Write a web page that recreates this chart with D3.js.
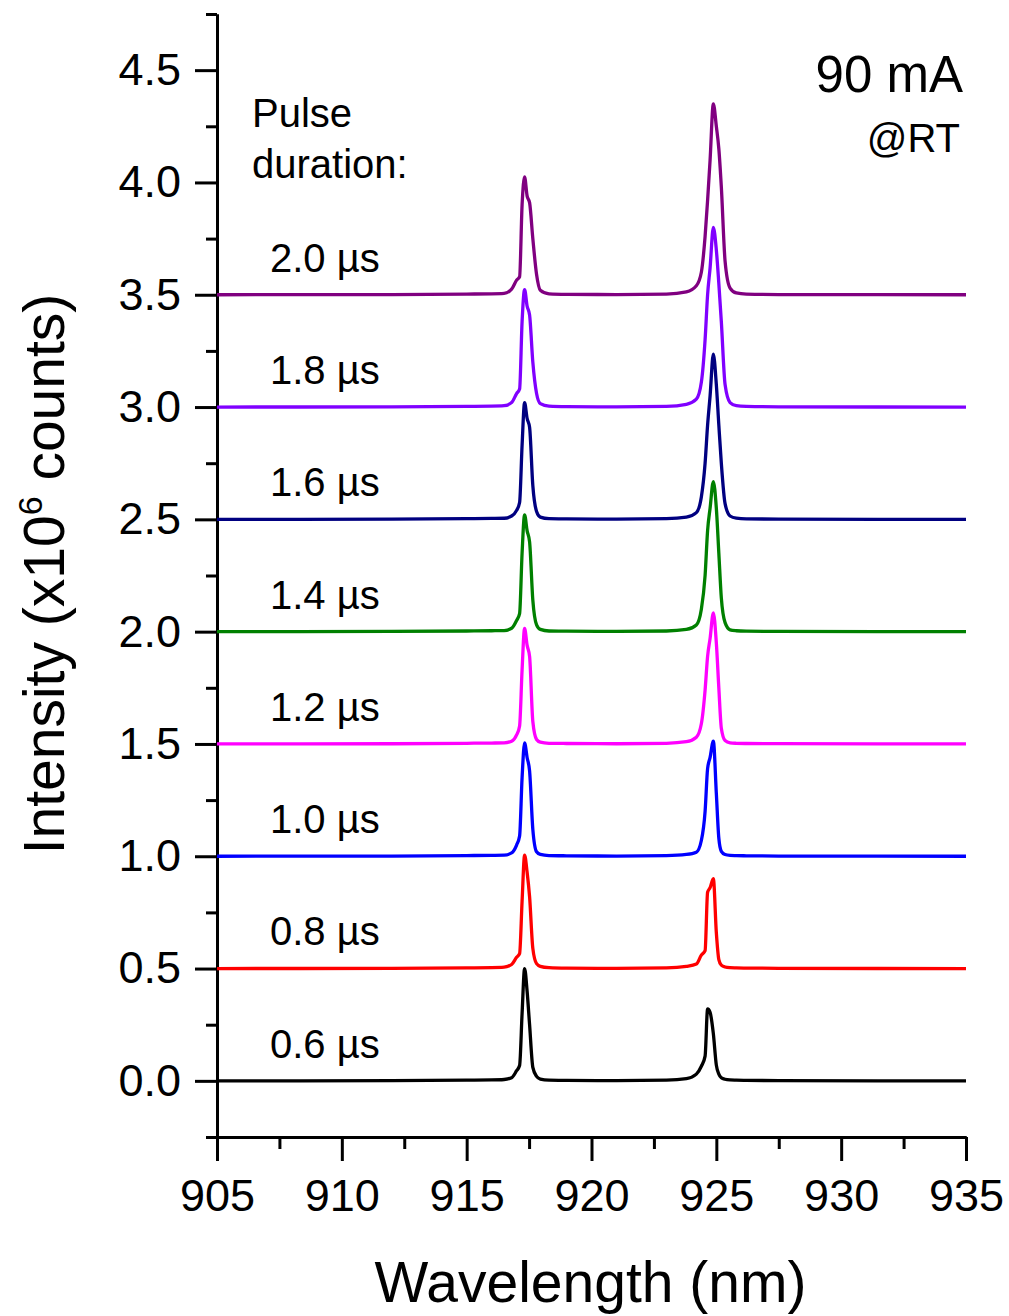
<!DOCTYPE html>
<html>
	<head>
		<meta charset="utf-8">
		<script src="https://d3js.org/d3.v7.min.js"></script>
		<style>
			body { margin: 0; background: #fff; }
			text { font-family: "Liberation Sans", Arial, sans-serif; fill: #000; }
		</style>
	</head>
	<body>
		<div id="chart"></div>
		<script>
			// Wavelength samples (nm), shared by all spectra
			var wavelengths = [905, 912, 915, 916, 916.5, 916.8, 917.0, 917.12, 917.22, 917.32, 917.42, 917.52, 917.65, 917.8, 917.95, 918.3,
				919, 921, 923, 923.8, 924.2, 924.4, 924.55, 924.65, 924.75, 924.88, 925.0, 925.1, 925.2, 925.35, 925.55, 925.8, 926.2, 927.5, 935];

			// Pulse durations and vertical offsets (x10^6 counts)
			var durations = ["0.6 µs", "0.8 µs", "1.0 µs", "1.2 µs", "1.4 µs", "1.6 µs", "1.8 µs", "2.0 µs"];
			var offsets = [0, 0.5, 1.0, 1.5, 2.0, 2.5, 3.0, 3.5];

			// Intensity above each offset, one value per wavelength sample
			var s06 = [0, 0.001, 0.003, 0.004, 0.006, 0.014, 0.045, 0.068, 0.30, 0.50, 0.40, 0.25, 0.06, 0.02, 0.008, 0.003,
				0.002, 0.001, 0.003, 0.01, 0.03, 0.065, 0.11, 0.32, 0.305, 0.21, 0.07, 0.03, 0.014, 0.007, 0.004, 0.003, 0.002, 0.001, 0];
			var s08 = [0, 0.001, 0.003, 0.004, 0.006, 0.018, 0.05, 0.066, 0.30, 0.505, 0.43, 0.32, 0.09, 0.022, 0.01, 0.004,
				0.002, 0.001, 0.003, 0.01, 0.02, 0.06, 0.08, 0.34, 0.36, 0.40, 0.16, 0.04, 0.015, 0.007, 0.004, 0.003, 0.002, 0.001, 0];
			var s10 = [0, 0.001, 0.003, 0.004, 0.005, 0.015, 0.05, 0.09, 0.35, 0.505, 0.44, 0.38, 0.12, 0.02, 0.008, 0.003,
				0.002, 0.001, 0.003, 0.008, 0.018, 0.07, 0.20, 0.39, 0.44, 0.513, 0.28, 0.08, 0.022, 0.008, 0.004, 0.003, 0.002, 0.001, 0];
			var s12 = [0, 0.001, 0.003, 0.004, 0.005, 0.012, 0.04, 0.08, 0.33, 0.515, 0.44, 0.39, 0.10, 0.02, 0.008, 0.003,
				0.002, 0.001, 0.003, 0.01, 0.03, 0.09, 0.24, 0.39, 0.47, 0.584, 0.45, 0.25, 0.07, 0.015, 0.005, 0.003, 0.002, 0.001, 0];
			var s14 = [0, 0.001, 0.003, 0.004, 0.005, 0.015, 0.05, 0.08, 0.35, 0.52, 0.45, 0.40, 0.14, 0.03, 0.01, 0.003,
				0.002, 0.001, 0.003, 0.01, 0.03, 0.10, 0.25, 0.45, 0.55, 0.668, 0.55, 0.35, 0.15, 0.04, 0.008, 0.004, 0.002, 0.001, 0];
			var s16 = [0, 0.001, 0.003, 0.004, 0.005, 0.015, 0.04, 0.075, 0.33, 0.52, 0.45, 0.41, 0.15, 0.035, 0.01, 0.003,
				0.002, 0.001, 0.003, 0.01, 0.03, 0.10, 0.25, 0.42, 0.55, 0.735, 0.60, 0.42, 0.25, 0.07, 0.015, 0.005, 0.002, 0.001, 0];
			var s18 = [0, 0.001, 0.003, 0.004, 0.006, 0.02, 0.06, 0.08, 0.38, 0.523, 0.45, 0.41, 0.20, 0.06, 0.015, 0.004,
				0.002, 0.001, 0.003, 0.012, 0.035, 0.11, 0.30, 0.50, 0.62, 0.80, 0.70, 0.55, 0.38, 0.10, 0.02, 0.006, 0.003, 0.001, 0];
			var s20 = [0, 0.001, 0.003, 0.004, 0.006, 0.025, 0.065, 0.08, 0.40, 0.525, 0.44, 0.41, 0.25, 0.09, 0.02, 0.004,
				0.002, 0.001, 0.003, 0.013, 0.04, 0.10, 0.26, 0.42, 0.60, 0.85, 0.75, 0.65, 0.48, 0.15, 0.03, 0.008, 0.003, 0.001, 0];
			var seriesValues = [s06, s08, s10, s12, s14, s16, s18, s20];

			// Tick values
			var xTicks = [905, 910, 915, 920, 925, 930, 935];
			var yTicks = [0.0, 0.5, 1.0, 1.5, 2.0, 2.5, 3.0, 3.5, 4.0, 4.5];

			var colours = ["#000000", "#ff0000", "#0000ff", "#ff00ff", "#008000", "#000080", "#8000ff", "#800080"];

			// Chart size
			var W = 1009, H = 1316;
			var margin = {top: 14, right: 43, bottom: 179, left: 217},
				width = W - margin.left - margin.right,
				height = H - margin.top - margin.bottom;

			var svg = d3.select("#chart").append("svg")
				.attr("width", W)
				.attr("height", H);

			var chart = svg.append("g")
				.attr("transform", "translate(" + margin.left + "," + margin.top + ")");

			// Scales
			var x = d3.scaleLinear().domain([905, 935]).range([0, width]);
			var y = d3.scaleLinear().domain([-0.25, 4.75]).range([height, 0]);

			// Minor ticks (x every 2.5 nm, y every 0.25)
			var xMinor = d3.range(907.5, 935, 5);
			var yMinor = d3.range(-0.25, 4.8, 0.5);

			chart.append("g")
				.attr("class", "minor")
				.attr("transform", "translate(0," + height + ")")
				.call(d3.axisBottom(x).tickValues(xMinor).tickSize(12).tickSizeOuter(0).tickFormat(""));

			chart.append("g")
				.attr("class", "minor")
				.call(d3.axisLeft(y).tickValues(yMinor).tickSize(11).tickSizeOuter(0).tickFormat(""));

			// Major axes
			var xAxis = chart.append("g")
				.attr("transform", "translate(0," + height + ")")
				.call(d3.axisBottom(x).tickValues(xTicks).tickSize(24).tickSizeOuter(0).tickPadding(18).tickFormat(d3.format("d")));

			var yAxis = chart.append("g")
				.call(d3.axisLeft(y).tickValues(yTicks).tickSize(22).tickSizeOuter(0).tickPadding(14).tickFormat(d3.format(".1f")));

			chart.selectAll(".domain, .tick line")
				.attr("stroke", "#000")
				.attr("stroke-width", 3);

			chart.selectAll(".tick text")
				.style("font-size", "45px")
				.style("font-family", "'Liberation Sans', Arial, sans-serif");

			// Spectra
			var line = d3.line()
				.x(function(d) { return x(d[0]); })
				.y(function(d) { return y(d[1]); })
				.curve(d3.curveMonotoneX);

			var spectra = durations.map(function(name, i) {
				return {
					name: name,
					offset: offsets[i],
					points: wavelengths.map(function(w, j) { return [w, offsets[i] + seriesValues[i][j]]; })
				};
			});

			chart.selectAll(".spectrum")
				.data(spectra)
				.enter().append("path")
				.attr("class", "spectrum")
				.attr("fill", "none")
				.attr("stroke", function(d, i) { return colours[i]; })
				.attr("stroke-width", 3.3)
				.attr("stroke-linejoin", "round")
				.attr("d", function(d) { return line(d.points); });

			// Duration labels above each baseline
			chart.selectAll(".dur")
				.data(spectra)
				.enter().append("text")
				.attr("class", "dur")
				.attr("x", 53)
				.attr("y", function(d) { return y(d.offset + 0.103); })
				.style("font-size", "40px")
				.text(function(d) { return d.name; });

			// Annotations
			chart.append("text")
				.attr("x", 35).attr("y", 113)
				.style("font-size", "40px")
				.text("Pulse");
			chart.append("text")
				.attr("x", 35).attr("y", 164)
				.style("font-size", "40px")
				.text("duration:");

			chart.append("text")
				.attr("x", width - 3).attr("y", 78)
				.attr("text-anchor", "end")
				.style("font-size", "51px")
				.text("90 mA");
			chart.append("text")
				.attr("x", width - 6).attr("y", 138)
				.attr("text-anchor", "end")
				.style("font-size", "40px")
				.text("@RT");

			// Axis titles
			svg.append("text")
				.attr("x", margin.left + width / 2 - 1)
				.attr("y", 1302)
				.attr("text-anchor", "middle")
				.style("font-size", "57px")
				.text("Wavelength (nm)");

			var yTitle = svg.append("text")
				.attr("transform", "translate(64,574) rotate(-90)")
				.attr("text-anchor", "middle")
				.style("font-size", "57px");
			yTitle.append("tspan").text("Intensity (x10");
			yTitle.append("tspan").attr("dy", -22).style("font-size", "34px").text("6");
			yTitle.append("tspan").attr("dy", 22).text(" counts)");
		</script>
	</body>
</html>
